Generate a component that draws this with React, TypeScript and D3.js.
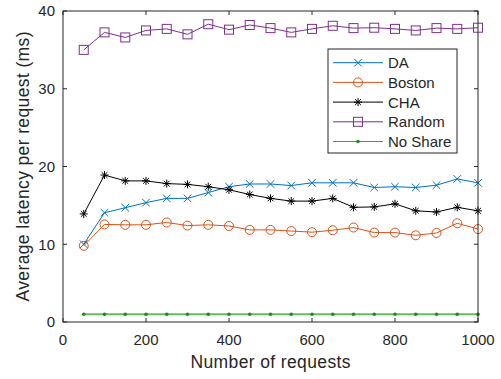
import React, { useEffect, useRef } from "react";
import * as d3 from "d3";

const requests = [50, 100, 150, 200, 250, 300, 350, 400, 450, 500, 550, 600, 650, 700, 750, 800, 850, 900, 950, 1000];

const daValues = [10.0, 14.05, 14.7, 15.35, 15.9, 15.9, 16.65, 17.4, 17.75, 17.75, 17.55, 17.9, 17.9, 17.9, 17.3, 17.4, 17.3, 17.6, 18.4, 17.9];
const bostonValues = [9.8, 12.55, 12.5, 12.5, 12.8, 12.4, 12.5, 12.35, 11.85, 11.85, 11.7, 11.55, 11.8, 12.15, 11.5, 11.5, 11.15, 11.45, 12.7, 11.95];
const chaValues = [13.9, 18.9, 18.15, 18.15, 17.8, 17.7, 17.4, 17.0, 16.4, 15.9, 15.55, 15.55, 15.9, 14.75, 14.8, 15.2, 14.3, 14.15, 14.75, 14.3];
const randomValues = [35.0, 37.25, 36.6, 37.5, 37.7, 37.0, 38.3, 37.6, 38.2, 37.8, 37.25, 37.7, 38.1, 37.8, 37.85, 37.7, 37.5, 37.8, 37.7, 37.85];
const noShareValues = [1.0, 1.0, 1.0, 1.0, 1.0, 1.0, 1.0, 1.0, 1.0, 1.0, 1.0, 1.0, 1.0, 1.0, 1.0, 1.0, 1.0, 1.0, 1.0, 1.0];

const seriesNames = ["DA", "Boston", "CHA", "Random", "No Share"];
const xTicks = [0, 200, 400, 600, 800, 1000];
const yTicks = [0, 10, 20, 30, 40];

const FONT = "'Liberation Sans', Arial, Helvetica, sans-serif";

const App = () => {
  const svgRef = useRef<SVGSVGElement>(null);

  useEffect(() => {
    const width = 501, height = 379;
    const left = 63, right = 478, top = 11, bottom = 322;

    const svg = d3.select(svgRef.current);
    svg.selectAll("*").remove();
    svg.attr("width", width).attr("height", height);

    svg.append("rect").attr("width", width).attr("height", height).attr("fill", "#fff");

    const x = d3.scaleLinear().domain([0, 1000]).range([left, right]);
    const y = d3.scaleLinear().domain([0, 40]).range([bottom, top]);

    const series = [
      { name: seriesNames[0], values: daValues, color: "#0072BD", marker: "x", lw: 1 },
      { name: seriesNames[1], values: bostonValues, color: "#D95319", marker: "o", lw: 1 },
      { name: seriesNames[2], values: chaValues, color: "#000000", marker: "*", lw: 1 },
      { name: seriesNames[3], values: randomValues, color: "#7E2F8E", marker: "s", lw: 1 },
      { name: seriesNames[4], values: noShareValues, color: "#66bb66", marker: ".", lw: 2 },
    ];

    const drawMarker = (g: any, marker: string, cx: number, cy: number, color: string) => {
      if (marker === "x") {
        const r = 3.8;
        g.append("path")
          .attr("d", `M${cx - r},${cy - r}L${cx + r},${cy + r}M${cx - r},${cy + r}L${cx + r},${cy - r}`)
          .attr("stroke", color).attr("stroke-width", 1).attr("fill", "none");
      } else if (marker === "o") {
        g.append("circle").attr("cx", cx).attr("cy", cy).attr("r", 4.5)
          .attr("stroke", color).attr("stroke-width", 1).attr("fill", "none");
      } else if (marker === "*") {
        const r = 4;
        const d = r * 0.72;
        g.append("path")
          .attr("d", `M${cx},${cy - r}L${cx},${cy + r}M${cx - d},${cy - d}L${cx + d},${cy + d}M${cx - d},${cy + d}L${cx + d},${cy - d}M${cx - r},${cy}L${cx + r},${cy}`)
          .attr("stroke", color).attr("stroke-width", 1).attr("fill", "none");
      } else if (marker === "s") {
        const r = 4.5;
        g.append("rect").attr("x", cx - r).attr("y", cy - r).attr("width", 2 * r).attr("height", 2 * r)
          .attr("stroke", color).attr("stroke-width", 1).attr("fill", "none");
      } else if (marker === ".") {
        g.append("circle").attr("cx", cx).attr("cy", cy).attr("r", 1.8).attr("fill", "#1e8c1e");
      }
    };

    const line = d3.line<number>()
      .x((_, i) => x(requests[i]))
      .y(d => y(d));

    series.forEach(s => {
      const g = svg.append("g");
      g.append("path")
        .attr("d", line(s.values))
        .attr("fill", "none")
        .attr("stroke", s.color)
        .attr("stroke-width", s.lw);
      s.values.forEach((v, i) => drawMarker(g, s.marker, x(requests[i]), y(v), s.color));
    });

    // axes box and ticks
    const axisColor = "#262626";
    const tickLen = 4;
    const ag = svg.append("g");
    ag.append("rect")
      .attr("x", left).attr("y", top).attr("width", right - left).attr("height", bottom - top)
      .attr("fill", "none").attr("stroke", axisColor).attr("stroke-width", 1);

    xTicks.forEach(t => {
      const px = x(t);
      ag.append("line").attr("x1", px).attr("x2", px).attr("y1", bottom).attr("y2", bottom - tickLen)
        .attr("stroke", axisColor);
      ag.append("line").attr("x1", px).attr("x2", px).attr("y1", top).attr("y2", top + tickLen)
        .attr("stroke", axisColor);
      ag.append("text").attr("x", px).attr("y", 345).attr("text-anchor", "middle")
        .attr("font-family", FONT).attr("font-size", 15).attr("fill", axisColor).text(t);
    });

    yTicks.forEach(t => {
      const py = y(t);
      ag.append("line").attr("x1", left).attr("x2", left + tickLen).attr("y1", py).attr("y2", py)
        .attr("stroke", axisColor);
      ag.append("line").attr("x1", right).attr("x2", right - tickLen).attr("y1", py).attr("y2", py)
        .attr("stroke", axisColor);
      ag.append("text").attr("x", 55).attr("y", py).attr("dy", "0.36em").attr("text-anchor", "end")
        .attr("font-family", FONT).attr("font-size", 15).attr("fill", axisColor).text(t);
    });

    ag.append("text")
      .attr("x", (left + right) / 2).attr("y", 368).attr("text-anchor", "middle")
      .attr("font-family", FONT).attr("font-size", 17.5).attr("fill", axisColor)
      .attr("textLength", 160).attr("lengthAdjust", "spacing")
      .text("Number of requests");

    ag.append("text")
      .attr("transform", `translate(29, ${(top + bottom) / 2}) rotate(-90)`)
      .attr("text-anchor", "middle")
      .attr("font-family", FONT).attr("font-size", 17.5).attr("fill", axisColor)
      .attr("textLength", 270).attr("lengthAdjust", "spacing")
      .text("Average latency per request (ms)");

    // legend
    const lg = svg.append("g");
    lg.append("rect").attr("x", 328).attr("y", 49).attr("width", 129).attr("height", 104)
      .attr("fill", "#fff").attr("stroke", axisColor).attr("stroke-width", 1);
    series.forEach((s, i) => {
      const ly = 62.7 + i * 19.7;
      lg.append("line").attr("x1", 333).attr("x2", 383).attr("y1", ly).attr("y2", ly)
        .attr("stroke", s.marker === "." ? "#3fa53f" : s.color).attr("stroke-width", 1);
      drawMarker(lg, s.marker, 358, ly, s.color);
      lg.append("text").attr("x", 388).attr("y", ly).attr("dy", "0.36em")
        .attr("font-family", FONT).attr("font-size", 15).attr("fill", axisColor).text(s.name);
    });
  }, []);

  return <svg ref={svgRef} style={{ position: "absolute", left: 0, top: 0 }}></svg>;
};

export default App;
